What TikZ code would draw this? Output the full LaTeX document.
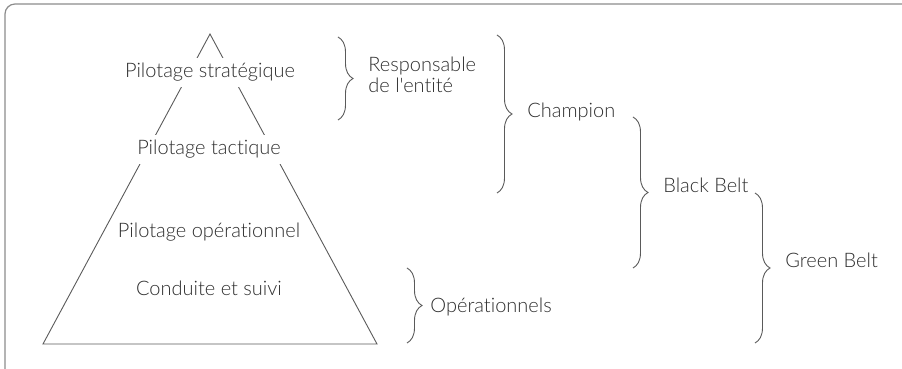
\documentclass[tikz,border=0pt]{standalone}
\usepackage{fontspec}
\setmainfont{Lato}[UprightFont={* Light}, Ligatures={TeXOff,NoCommon}]
\usetikzlibrary{decorations.pathreplacing}
\definecolor{txt}{HTML}{2E2E2E}
\definecolor{ln}{HTML}{5A5A5A}
\definecolor{framec}{HTML}{8C8C8C}
\begin{document}
\begin{tikzpicture}[x=0.5pt,y=-0.5pt,
  lbl/.style={font=\fontsize{10}{10.5}\selectfont, text=txt, inner sep=0pt},
  lvl/.style={lbl, fill=white, inner xsep=1pt, inner ysep=2.5pt, anchor=base},
  brc/.style={draw=ln, line width=0.45pt, decorate, decoration={brace, amplitude=7.5pt}},
  tri/.style={draw=ln, line width=0.45pt},
]
\useasboundingbox (0,0) rectangle (902,369);
\begin{scope}
\clip (0,0) rectangle (902,369);
\draw[framec, line width=0.6pt, rounded corners=5pt] (5,4) rectangle (940,410);
\end{scope}
% pyramid
\coordinate (apex) at (210,34);
\coordinate (bl) at (43,344);
\coordinate (br) at (377,344);
\draw[tri] (apex) -- (bl) -- (br) -- cycle;
\node[lvl] (strat) at (210,78) {Pilotage stratégique};
\node[lvl] (tact) at (209,155) {Pilotage tactique};
\node[lvl] (oper) at (209,238) {Pilotage opérationnel};
\node[lvl] (cond) at (209,296) {Conduite et suivi};
% braces
\coordinate (b1t) at (338,37);  \coordinate (b1b) at (338,120);
\coordinate (b2t) at (497,35);  \coordinate (b2b) at (497,193);
\coordinate (b3t) at (633,117); \coordinate (b3b) at (633,268);
\coordinate (b4t) at (755,193); \coordinate (b4b) at (755,343);
\coordinate (b5t) at (407,268); \coordinate (b5b) at (407,343);
\draw[brc] (b1t) -- (b1b);
\draw[brc] (b2t) -- (b2b);
\draw[brc] (b3t) -- (b3b);
\draw[brc] (b4t) -- (b4b);
\draw[brc] (b5t) -- (b5b);
% labels
\node[lbl, align=left, anchor=west] (resp) at (368,75) {Responsable\\de l'entité};
\node[lbl, anchor=base west] (champ) at (527,118) {Champion};
\node[lbl, anchor=base west] (black) at (663,193) {Black Belt};
\node[lbl, anchor=base west] (green) at (785,268) {Green Belt};
\node[lbl, anchor=base west] (opers) at (430,313) {Opérationnels};
\end{tikzpicture}
\end{document}
